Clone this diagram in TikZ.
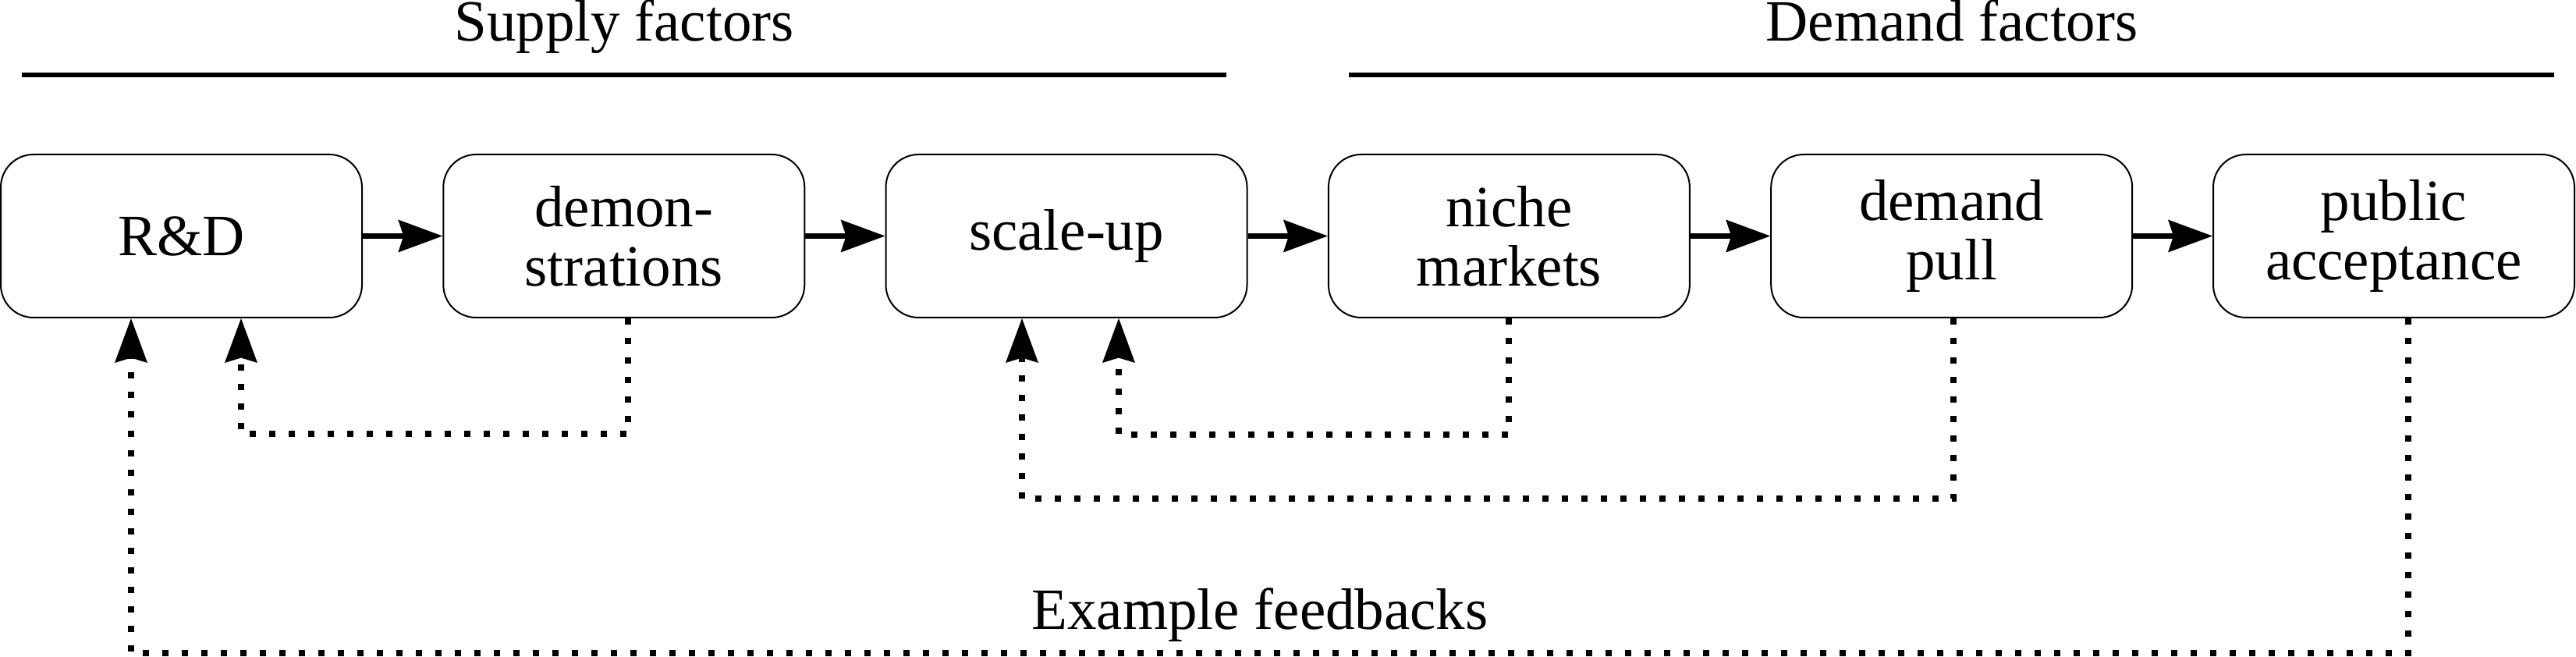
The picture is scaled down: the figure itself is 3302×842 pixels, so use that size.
\documentclass[tikz,border=0pt]{standalone}
\usepackage{fontspec}
\setmainfont{Liberation Serif}
\usetikzlibrary{arrows.meta,calc}
\begin{document}
\begin{tikzpicture}[x=0.25pt,y=-0.25pt,
  box/.style={draw,line width=0.5pt,rounded corners=10.5pt,minimum width=115.75pt,minimum height=52.25pt,inner sep=0pt,align=center,font=\fontsize{18.75pt}{19pt}\selectfont},
  lbl/.style={font=\fontsize{18.75pt}{19pt}\selectfont,inner sep=0pt,anchor=base},
  flow/.style={line width=1.75pt,-{Stealth[length=14.25pt,width=10.5pt,inset=1.75pt,line width=0pt]}},
  fb/.style={line width=2pt,dash pattern=on 2pt off 4.25pt,-{Stealth[length=14.25pt,width=10.5pt,inset=1.6pt,line width=0pt]}},
  hline/.style={line width=1.5pt}]
\useasboundingbox (0,0) rectangle (3302,842);

% headers
\node[lbl] (supply) at (800,53) {Supply factors};
\node[lbl] (demand) at (2502,53) {Demand factors};
\coordinate (s1) at (28,96.5);
\coordinate (s2) at (1572,96.5);
\coordinate (d1) at (1729,96.5);
\coordinate (d2) at (3274,96.5);
\draw[hline] (s1) -- (s2);
\draw[hline] (d1) -- (d2);

% boxes
\node[box] (rd)    at (232.5,302.5)  {R\&D};
\node[box] (demo)  at (799.8,302.5)  {demon-\\strations};
\node[box] (scale) at (1367,302.5)   {scale-up};
\node[box] (niche) at (1934.4,302.5) {niche\\markets};
\node[box] (dpull) at (2501.7,302.5) {demand\\pull};
\node[box] (pub)   at (3068.5,302.5) {public\\acceptance};

% main flow
\draw[flow] (rd.east) -- (demo.west);
\draw[flow] (demo.east) -- (scale.west);
\draw[flow] (scale.east) -- (niche.west);
\draw[flow] (niche.east) -- (dpull.west);
\draw[flow] (dpull.east) -- (pub.west);

% feedbacks
\draw[fb] ($(demo.south)+(5,0)$) |- ($(rd.south)+(76.5,148)$) -- ($(rd.south)+(76.5,0)$);
\draw[fb] ($(pub.south)+(18.5,0)$) |- ($(rd.south)+(-64.5,429)$) -- ($(rd.south)+(-64.5,0)$);
\draw[fb] (niche.south) |- ($(scale.south)+(67,149)$) -- ($(scale.south)+(67,0)$);
\draw[fb] ($(dpull.south)+(2,0)$) |- ($(scale.south)+(-57,231)$) -- ($(scale.south)+(-57,0)$);

\node[lbl] (example) at (1615,807) {Example feedbacks};
\end{tikzpicture}
\end{document}
